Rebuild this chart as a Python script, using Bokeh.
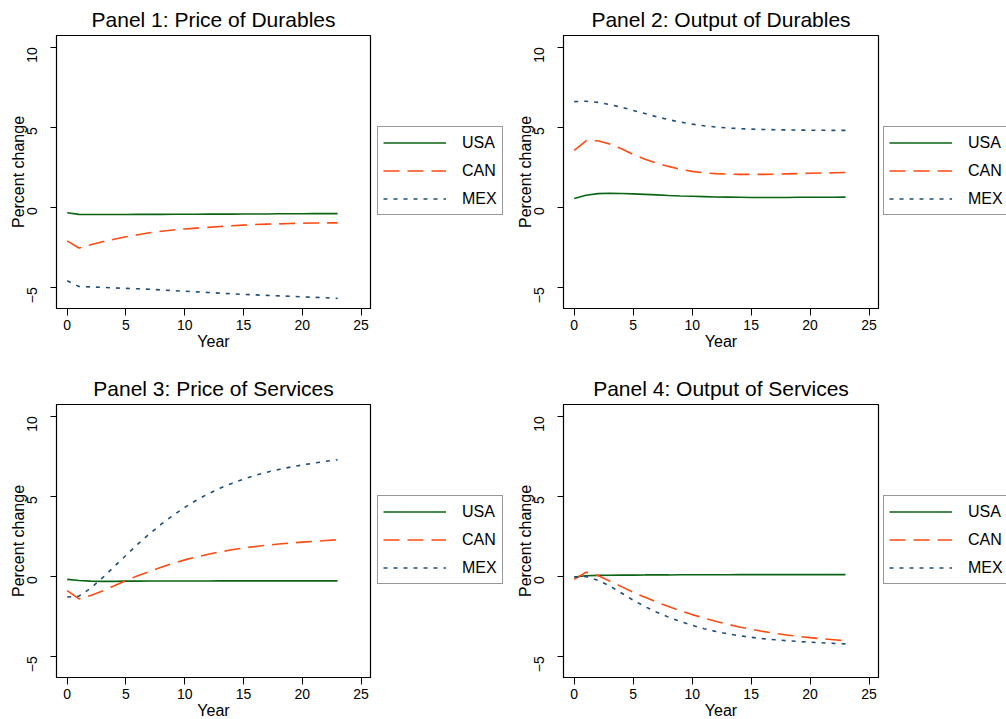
import math
from bokeh.plotting import figure
from bokeh.models import Legend, LegendItem, Range1d, FixedTicker
from bokeh.layouts import column, row
from bokeh.embed import file_html
from bokeh.resources import INLINE

years = list(range(24))
countries = ["USA", "CAN", "MEX"]
titles = ["Panel 1: Price of Durables", "Panel 2: Output of Durables",
          "Panel 3: Price of Services", "Panel 4: Output of Services"]
x_ticks = [0, 5, 10, 15, 20, 25]
y_ticks = [-5, 0, 5, 10]

usa1 = [-0.35, -0.45, -0.46, -0.46, -0.46, -0.46, -0.45, -0.45, -0.45, -0.44, -0.44, -0.44,
        -0.43, -0.43, -0.43, -0.42, -0.42, -0.42, -0.41, -0.41, -0.41, -0.40, -0.40, -0.40]
can1 = [-2.10, -2.55, -2.35, -2.16, -2.00, -1.85, -1.72, -1.60, -1.50, -1.42, -1.36, -1.31,
        -1.26, -1.21, -1.16, -1.12, -1.08, -1.06, -1.04, -1.02, -1.00, -0.99, -0.98, -0.98]
mex1 = [-4.60, -4.95, -4.98, -5.01, -5.04, -5.07, -5.10, -5.13, -5.17, -5.21, -5.25, -5.29,
        -5.33, -5.37, -5.41, -5.45, -5.48, -5.51, -5.54, -5.57, -5.60, -5.63, -5.66, -5.70]

usa2 = [0.55, 0.75, 0.85, 0.87, 0.86, 0.83, 0.80, 0.77, 0.73, 0.70, 0.68, 0.66,
        0.64, 0.63, 0.62, 0.61, 0.61, 0.61, 0.61, 0.62, 0.62, 0.62, 0.62, 0.63]
can2 = [3.55, 4.15, 4.15, 3.95, 3.65, 3.30, 3.00, 2.75, 2.55, 2.37, 2.24, 2.15,
        2.10, 2.07, 2.05, 2.05, 2.05, 2.06, 2.08, 2.10, 2.12, 2.14, 2.15, 2.17]
mex2 = [6.60, 6.62, 6.55, 6.42, 6.25, 6.05, 5.85, 5.65, 5.47, 5.32, 5.19, 5.09,
        5.01, 4.95, 4.91, 4.88, 4.86, 4.84, 4.83, 4.82, 4.81, 4.81, 4.80, 4.80]

usa3 = [-0.20, -0.27, -0.31, -0.32, -0.32, -0.31, -0.31, -0.30, -0.30, -0.30, -0.30, -0.30,
        -0.30, -0.29, -0.29, -0.29, -0.29, -0.29, -0.29, -0.29, -0.29, -0.29, -0.29, -0.29]
can3 = [-0.90, -1.42, -1.20, -0.92, -0.60, -0.27, 0.03, 0.30, 0.56, 0.80, 1.02, 1.20,
        1.37, 1.52, 1.65, 1.76, 1.86, 1.94, 2.01, 2.07, 2.13, 2.18, 2.23, 2.28]
mex3 = [-1.30, -1.25, -0.75, -0.10, 0.60, 1.30, 2.00, 2.65, 3.25, 3.80, 4.30, 4.75,
        5.15, 5.50, 5.80, 6.07, 6.30, 6.50, 6.67, 6.82, 6.95, 7.07, 7.18, 7.28]

usa4 = [-0.05, 0.03, 0.05, 0.06, 0.07, 0.07, 0.08, 0.08, 0.08, 0.09, 0.09, 0.09,
        0.09, 0.09, 0.10, 0.10, 0.10, 0.10, 0.10, 0.10, 0.10, 0.10, 0.10, 0.10]
can4 = [-0.20, 0.25, 0.05, -0.30, -0.65, -1.00, -1.32, -1.62, -1.90, -2.16, -2.40, -2.62,
        -2.82, -3.00, -3.17, -3.32, -3.45, -3.57, -3.67, -3.76, -3.84, -3.91, -3.97, -4.03]
mex4 = [-0.05, -0.02, -0.25, -0.60, -1.05, -1.50, -1.90, -2.25, -2.56, -2.83, -3.07, -3.28,
        -3.45, -3.60, -3.72, -3.82, -3.90, -3.97, -4.03, -4.08, -4.12, -4.16, -4.20, -4.23]

panels = [(usa1, can1, mex1), (usa2, can2, mex2), (usa3, can3, mex3), (usa4, can4, mex4)]

COLORS = ["#0a6414", "#ff4a12", "#1f4e79"]
DASHES = ["solid", "16 8", "4 6"]
FONT = "Liberation Sans"
FRAME_H = 273
TOP = 34


def make_panel(idx, left, fw, bottom):
    p = figure(frame_width=fw, frame_height=FRAME_H, min_border_left=left,
               min_border_right=2, min_border_top=TOP, min_border_bottom=bottom,
               x_range=Range1d(-0.91, 25.8), y_range=Range1d(-6.33, 10.73),
               output_backend="svg", toolbar_location=None, tools="")
    p.title.text = titles[idx]
    p.title.align = "center"
    p.title.text_font = FONT
    p.title.text_font_size = "21px"
    p.title.text_font_style = "normal"
    p.title.text_color = "black"
    p.title.standoff = 10
    p.grid.visible = False
    p.outline_line_color = "black"
    p.outline_line_width = 1.2
    p.background_fill_color = "white"
    p.border_fill_color = "white"
    for ax in (p.xaxis[0], p.yaxis[0]):
        ax.axis_line_color = "black"
        ax.major_tick_line_color = "black"
        ax.major_tick_in = 0
        ax.minor_tick_line_color = None
        ax.major_label_text_font = FONT
        ax.major_label_text_font_size = "14px"
        ax.major_label_text_color = "black"
        ax.axis_label_text_font = FONT
        ax.axis_label_text_font_size = "16px"
        ax.axis_label_text_font_style = "normal"
        ax.axis_label_text_color = "black"
    p.xaxis.ticker = FixedTicker(ticks=x_ticks)
    p.yaxis.ticker = FixedTicker(ticks=y_ticks)
    p.xaxis.axis_label = "Year"
    p.yaxis.axis_label = "Percent change"
    p.yaxis.major_label_orientation = math.pi / 2
    p.xaxis.major_tick_out = 7
    p.yaxis.major_tick_out = 6
    p.xaxis.major_label_standoff = 4
    p.xaxis.axis_label_standoff = 0
    p.yaxis.major_label_standoff = 18
    p.yaxis.axis_label_standoff = -7

    for series, c, d in zip(panels[idx], COLORS, DASHES):
        p.line(years, series, line_color=c, line_width=1.6, line_dash=d)
    return p


def make_legend(idx, width, height, dx, bottom_offset):
    # Legend-only figure: the series are drawn out of view, only their legend shows.
    # Its frame is aligned by the row with the neighbouring panel's frame.
    q = figure(width=width, height=height, min_border=0,
               x_range=Range1d(100, 101), y_range=Range1d(100, 101),
               x_axis_location=None, y_axis_location=None,
               output_backend="svg", toolbar_location=None, tools="")
    q.grid.visible = False
    q.outline_line_color = None
    q.background_fill_color = "white"
    q.border_fill_color = "white"
    items = []
    for series, name, c, d in zip(panels[idx], countries, COLORS, DASHES):
        r = q.line(years, series, line_color=c, line_width=1.6, line_dash=d)
        items.append(LegendItem(label=name, renderers=[r]))
    leg = Legend(items=items, location=(dx, bottom_offset),
                 border_line_color="#333333", border_line_width=1.2,
                 background_fill_color="white", background_fill_alpha=1,
                 padding=5, spacing=7, margin=0, glyph_width=63, glyph_height=21,
                 label_height=21, label_standoff=16, label_text_color="black",
                 label_text_font=FONT, label_text_font_size="16px")
    q.add_layout(leg, "center")
    return q


H_TOP = TOP + FRAME_H + 61
H_BOT = TOP + FRAME_H + 44
LEG_BOTTOM = 92

p1 = make_panel(0, 56, 314, 61)
l1 = make_legend(0, 136, H_TOP, 5, LEG_BOTTOM)
p2 = make_panel(1, 55, 315, 61)
l2 = make_legend(1, 126, H_TOP, 3, LEG_BOTTOM)
p3 = make_panel(2, 56, 314, 44)
l3 = make_legend(2, 136, H_BOT, 5, LEG_BOTTOM)
p4 = make_panel(3, 55, 315, 44)
l4 = make_legend(3, 126, H_BOT, 3, LEG_BOTTOM)

layout = column(row(p1, l1, p2, l2), row(p3, l3, p4, l4))
open("out.html", "w").write(file_html(layout, INLINE))
